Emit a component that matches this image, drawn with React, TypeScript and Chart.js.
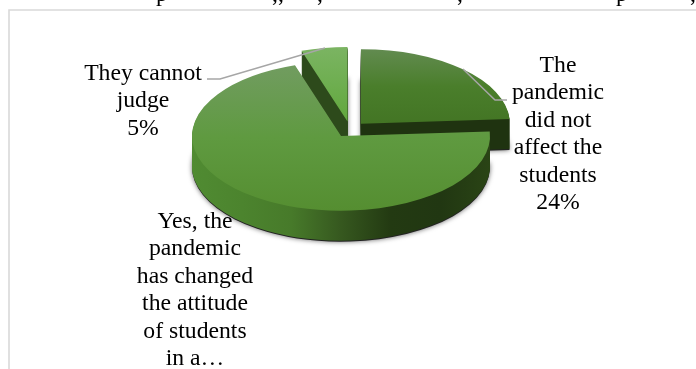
import React, { useEffect, useRef } from "react";
import { Chart, registerables } from "chart.js";

Chart.register(...registerables);

// Survey answers, clockwise from twelve o'clock.
const categories = [
  "The pandemic did not affect the students",
  "Yes, the pandemic has changed the attitude of students in a…",
  "They cannot judge",
];
const shares = [24, 71, 5];

// Wrapped data label lines for each slice.
const labelLines = [
  ["The", "pandemic", "did not", "affect the", "students", "24%"],
  ["Yes, the", "pandemic", "has changed", "the attitude", "of students", "in a…"],
  ["They cannot", "judge", "5%"],
];
const labelCentres = [558, 195, 143];
const labelFirstBaselines = [72, 228, 80];
const LABEL_LINE_HEIGHT = 27.4;
const LABEL_FONT = '23.7px "Liberation Serif"';

// Leader lines between slices and their labels.
const leaderLines = [
  [[463, 69], [495, 100], [507, 100]],
  [],
  [[207, 79], [220, 79], [325, 48]],
];

// Descenders of the line of running text cut off above the figure.
const clippedGlyphs = ["p", ",,", ",", ",", "p", ","];
const clippedGlyphX = [162, 278, 320, 460, 622, 693];

// Colour stops: top face runs vertically, side wall runs horizontally.
const faceStops = [
  ["#628b50", "#4a7e2b", "#437524"],
  ["#719c60", "#5f9a40", "#558e31"],
  ["#7bb462", "#6eae50", "#61a73c"],
];
const wallStops = [
  ["#1f3310", "#1f3310"],
  ["#508b32", "#4c842e", "#477a2a", "#36581f", "#233a12", "#213712", "#2a4415"],
  ["#2d4a1b", "#2d4a1b"],
];
// Farther slices are painted first so nearer ones overlap them.
const paintOrder = [2, 0, 1];

const TILT = 0.5;
const DEPTH = 30;
const EXPLODE = 16;

function stopsGradient(ctx, x0, y0, x1, y1, stops) {
  const g = ctx.createLinearGradient(x0, y0, x1, y1);
  stops.forEach((c, i) => g.addColorStop(i / (stops.length - 1), c));
  return g;
}

const tiltedPie = {
  id: "tiltedPie",
  beforeDatasetsDraw(chart) {
    const ctx = chart.ctx;
    const arcs = chart.getDatasetMeta(0).data;

    // Labels sit beneath the pie, which slightly overlaps them.
    ctx.save();
    ctx.fillStyle = "#000";
    ctx.font = LABEL_FONT;
    ctx.textAlign = "center";
    ctx.textBaseline = "alphabetic";
    clippedGlyphs.forEach((t, i) => ctx.fillText(t, clippedGlyphX[i], 0.5));
    labelLines.forEach((lines, i) => {
      lines.forEach((line, j) =>
        ctx.fillText(line, labelCentres[i], labelFirstBaselines[i] + j * LABEL_LINE_HEIGHT)
      );
    });
    ctx.restore();

    const paintArc = (arc, drop, fill) => {
      const mid = (arc.startAngle + arc.endAngle) / 2;
      ctx.save();
      ctx.translate(arc.x, arc.y + drop);
      ctx.scale(1, TILT);
      ctx.translate(-arc.x + Math.cos(mid) * EXPLODE, -arc.y + Math.sin(mid) * EXPLODE);
      const own = arc.options;
      arc.options = { ...own, backgroundColor: fill };
      arc.draw(ctx);
      arc.options = own;
      ctx.restore();
    };

    // Soft shadow cast by the underside of the disc.
    ctx.save();
    ctx.shadowColor = "rgba(0,0,0,0.6)";
    ctx.shadowBlur = 5;
    arcs.forEach((arc) => paintArc(arc, DEPTH + 1, "#222"));
    ctx.restore();

    paintOrder.forEach((i) => {
      const arc = arcs[i];
      const r = arc.outerRadius;
      const wall = stopsGradient(ctx, arc.x - r, 0, arc.x + r, 0, wallStops[i]);
      for (let d = DEPTH; d >= 1; d--) paintArc(arc, d, wall);
    });
    paintOrder.forEach((i) => {
      const arc = arcs[i];
      const r = arc.outerRadius;
      const top = i === 1 ? arc.y - r * 0.95 : arc.y - r;
      const bottom = i === 1 ? arc.y + r : arc.y;
      const face = stopsGradient(ctx, 0, top, 0, bottom, faceStops[i]);
      paintArc(arc, 0, face);
    });

    // Leader lines run over the slices.
    ctx.save();
    ctx.strokeStyle = "#a6a6a6";
    ctx.lineWidth = 1.5;
    leaderLines.forEach((pts) => {
      if (!pts.length) return;
      ctx.beginPath();
      pts.forEach(([x, y], k) => (k ? ctx.lineTo(x, y) : ctx.moveTo(x, y)));
      ctx.stroke();
    });
    ctx.restore();
    return false;
  },
};

// Chart frame; its right and bottom edges fall outside the canvas.
const frame = {
  id: "frame",
  beforeDraw(chart) {
    const ctx = chart.ctx;
    ctx.save();
    ctx.fillStyle = "#fff";
    ctx.fillRect(0, 0, chart.width, chart.height);
    ctx.strokeStyle = "#d9d9d9";
    ctx.lineWidth = 1.6;
    ctx.beginPath();
    ctx.moveTo(9, chart.height);
    ctx.lineTo(9, 10);
    ctx.lineTo(chart.width, 10);
    ctx.stroke();
    ctx.restore();
  },
};

export default function App() {
  const ref = useRef<HTMLCanvasElement>(null);
  useEffect(() => {
    const chart = new Chart(ref.current, {
      type: "pie",
      data: {
        labels: categories,
        datasets: [{ data: shares, borderWidth: 0, radius: 149, backgroundColor: "#5c9a3c" }],
      },
      options: {
        animation: false,
        responsive: false,
        layout: { padding: { left: 4, bottom: 110 } },
        plugins: { legend: { display: false }, tooltip: { enabled: false } },
      },
      plugins: [frame, tiltedPie],
    });
    return () => chart.destroy();
  }, []);
  return (
    <div style={{ position: "absolute", left: 0, top: 0, width: 696, height: 369 }}>
      <canvas ref={ref} width={696} height={369} style={{ display: "block" }} />
    </div>
  );
}
